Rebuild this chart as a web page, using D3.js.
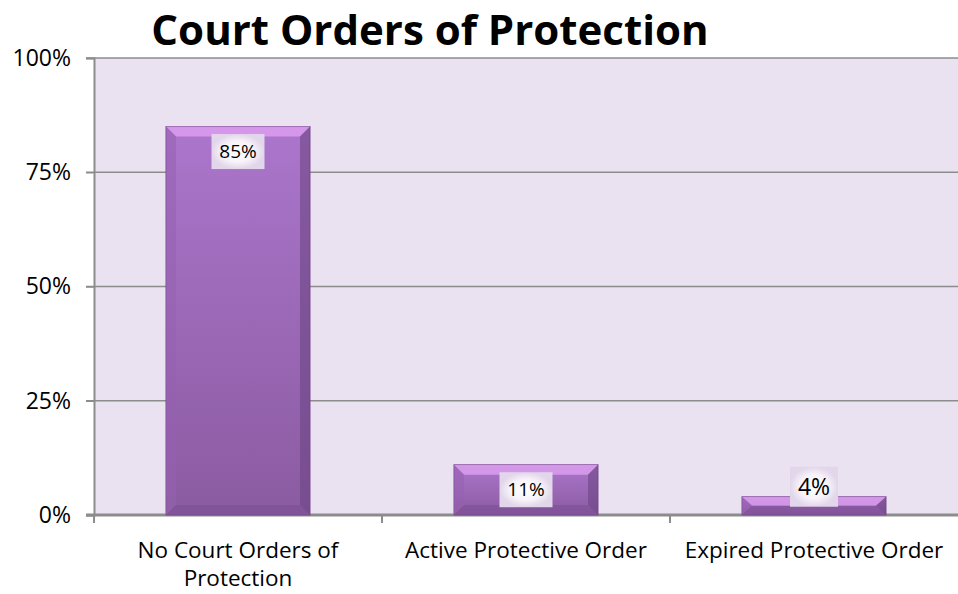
<!DOCTYPE html>
<html>
<head>
<meta charset="utf-8">
<script src="https://cdn.jsdelivr.net/npm/d3@7"></script>
<style>
  body { margin: 0; background: #fff; }
  svg { display: block; font-family: "Open Sans", "Noto Sans", sans-serif; }
</style>
</head>
<body>
<svg width="958" height="594"></svg>
<script>
// chart data
const categories = ["No Court Orders of Protection", "Active Protective Order", "Expired Protective Order"];
const values = [0.85, 0.11, 0.04];
const yTicks = [0, 0.25, 0.5, 0.75, 1];
const labelSizes = [19, 19, 23];

const width = 958;
const height = 594;
const margin = {top: 58, right: 0, bottom: 79, left: 94};

const svg = d3.select("svg");
const defs = svg.append("defs");

// bar gradient, lighter top to darker bottom
const barGrad = defs.append("linearGradient")
  .attr("id", "barGrad").attr("x1", 0).attr("y1", 0).attr("x2", 0).attr("y2", 1);
barGrad.append("stop").attr("offset", "0%").attr("stop-color", "#ab76cc");
barGrad.append("stop").attr("offset", "100%").attr("stop-color", "#8b5ba1");

// label box gradient
const lblGrad = defs.append("radialGradient").attr("id", "lblGrad");
lblGrad.append("stop").attr("offset", "0%").attr("stop-color", "#ffffff");
lblGrad.append("stop").attr("offset", "60%").attr("stop-color", "#f7f3f9");
lblGrad.append("stop").attr("offset", "100%").attr("stop-color", "#e2d6ea");

const x = d3.scaleBand()
  .domain(categories)
  .range([margin.left, width - margin.right])
  .paddingInner(0.5).paddingOuter(0.25);

const y = d3.scaleLinear()
  .domain([0, 1])
  .range([height - margin.bottom, margin.top]);

// plot background
svg.append("rect")
  .attr("x", margin.left).attr("y", margin.top)
  .attr("width", width - margin.left - margin.right)
  .attr("height", height - margin.top - margin.bottom)
  .attr("fill", "#eae2f1");

// gridlines
svg.append("g")
  .selectAll("line")
  .data(yTicks.filter(d => d > 0))
  .join("line")
  .attr("x1", margin.left - 8).attr("x2", width)
  .attr("y1", d => y(d)).attr("y2", d => y(d))
  .attr("stroke", "#8c8c8c").attr("stroke-width", 1.5);

// y axis
const yAxis = d3.axisLeft(y).tickValues(yTicks).tickFormat(d3.format(".0%")).tickSize(8);
const gy = svg.append("g")
  .attr("transform", `translate(${margin.left},0)`)
  .call(yAxis);
gy.select(".domain").attr("stroke", "#8c8c8c").attr("stroke-width", 2);
gy.selectAll(".tick line").attr("stroke", "#8c8c8c").attr("stroke-width", 1.5);
gy.selectAll(".tick text")
  .attr("x", -23)
  .attr("font-size", 23).attr("fill", "#000")
  .attr("font-family", "\"Open Sans\", \"Noto Sans\", sans-serif");

// x axis
const step = x.step();
const gx = svg.append("g")
  .attr("transform", `translate(0,${y(0)})`);
gx.append("line")
  .attr("x1", margin.left - 8).attr("x2", width)
  .attr("stroke", "#8c8c8c").attr("stroke-width", 3);
// tick marks between categories
gx.selectAll(".xtick")
  .data(d3.range(categories.length))
  .join("line")
  .attr("class", "xtick")
  .attr("x1", i => margin.left + i * step)
  .attr("x2", i => margin.left + i * step)
  .attr("y1", 0).attr("y2", 8)
  .attr("stroke", "#8c8c8c").attr("stroke-width", 2);

// x labels, wrap first one
const xLabels = [["No Court Orders of", "Protection"], ["Active Protective Order"], ["Expired Protective Order"]];
gx.selectAll(".xlabel")
  .data(categories)
  .join("text")
  .attr("class", "xlabel")
  .attr("text-anchor", "middle")
  .attr("font-size", 22.5)
  .attr("fill", "#000")
  .each(function(d, i) {
    d3.select(this).selectAll("tspan")
      .data(xLabels[i])
      .join("tspan")
      .attr("x", x(d) + x.bandwidth() / 2)
      .attr("y", (t, j) => 35 + j * 28)
      .attr("dy", "0.35em")
      .text(t => t);
  });

// bars with bevel
const bev = 10;
const bars = svg.append("g").selectAll("g")
  .data(categories)
  .join("g");

bars.append("rect")
  .attr("x", d => x(d))
  .attr("y", (d, i) => y(values[i]))
  .attr("width", x.bandwidth())
  .attr("height", (d, i) => y(0) - y(values[i]))
  .attr("fill", "url(#barGrad)")
  .attr("stroke", "#7b4f91").attr("stroke-width", 1);

// top bevel (light)
bars.append("path")
  .attr("d", (d, i) => {
    const x0 = x(d), x1 = x(d) + x.bandwidth(), y0 = y(values[i]);
    const h = Math.min(bev, (y(0) - y0) / 2);
    return `M${x0},${y0}L${x1},${y0}L${x1 - bev},${y0 + h}L${x0 + bev},${y0 + h}Z`;
  })
  .attr("fill", "#dfa0f0").attr("opacity", 0.8);
// left bevel
bars.append("path")
  .attr("d", (d, i) => {
    const x0 = x(d), y0 = y(values[i]), y1 = y(0);
    const h = Math.min(bev, (y1 - y0) / 2);
    return `M${x0},${y0}L${x0 + bev},${y0 + h}L${x0 + bev},${y1 - h}L${x0},${y1}Z`;
  })
  .attr("fill", "#9661b0").attr("opacity", 0.55);
// right bevel
bars.append("path")
  .attr("d", (d, i) => {
    const x1 = x(d) + x.bandwidth(), y0 = y(values[i]), y1 = y(0);
    const h = Math.min(bev, (y1 - y0) / 2);
    return `M${x1},${y0}L${x1 - bev},${y0 + h}L${x1 - bev},${y1 - h}L${x1},${y1}Z`;
  })
  .attr("fill", "#6d4583").attr("opacity", 0.6);
// bottom bevel
bars.append("path")
  .attr("d", (d, i) => {
    const x0 = x(d), x1 = x(d) + x.bandwidth(), y0 = y(values[i]), y1 = y(0);
    const h = Math.min(bev, (y1 - y0) / 2);
    return `M${x0},${y1}L${x1},${y1}L${x1 - bev},${y1 - h}L${x0 + bev},${y1 - h}Z`;
  })
  .attr("fill", "#7a4d92").attr("opacity", 0.55);

// data labels
bars.each(function(d, i) {
  const g = d3.select(this);
  const fs = labelSizes[i];
  const cx = x(d) + x.bandwidth() / 2;
  const bw = i === 2 ? 48 : 53;
  const bh = i === 2 ? 40 : 35;
  const cy = i === 2 ? y(values[i]) - 10 : y(values[i]) + 25;
  g.append("rect")
    .attr("x", cx - bw / 2).attr("y", cy - bh / 2)
    .attr("width", bw).attr("height", bh)
    .attr("fill", "url(#lblGrad)");
  g.append("text")
    .attr("x", cx).attr("y", cy)
    .attr("dy", "0.35em")
    .attr("text-anchor", "middle")
    .attr("font-size", fs)
    .attr("fill", "#000")
    .text(d3.format(".0%")(values[i]));
});

// title
svg.append("text")
  .attr("x", 430).attr("y", 45)
  .attr("text-anchor", "middle")
  .attr("font-size", 42)
  .attr("font-weight", "bold")
  .attr("fill", "#000")
  .text("Court Orders of Protection");
</script>
</body>
</html>
